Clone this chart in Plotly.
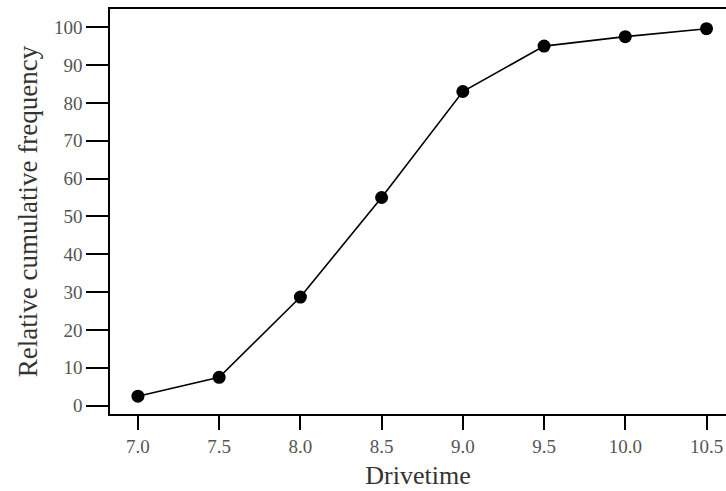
import plotly.graph_objects as go

drivetime = [7.0, 7.5, 8.0, 8.5, 9.0, 9.5, 10.0, 10.5]
rel_cum_freq = [2.5, 7.5, 28.7, 55.0, 83.0, 95.0, 97.5, 99.6]
x_ticks = [7.0, 7.5, 8.0, 8.5, 9.0, 9.5, 10.0, 10.5]
x_tick_text = ["7.0", "7.5", "8.0", "8.5", "9.0", "9.5", "10.0", "10.5"]
y_ticks = [0, 10, 20, 30, 40, 50, 60, 70, 80, 90, 100]

fig = go.Figure()
fig.add_trace(go.Scatter(
    x=drivetime, y=rel_cum_freq, mode="lines+markers",
    line=dict(color="black", width=1.6),
    marker=dict(color="black", size=13),
    cliponaxis=False, showlegend=False,
))

font = "Liberation Serif, DejaVu Serif, serif"
fig.update_layout(
    width=726, height=491,
    margin=dict(l=110, r=0, t=9, b=77),
    paper_bgcolor="white", plot_bgcolor="white",
    font=dict(family=font, color="#444"),
    xaxis=dict(
        range=[6.828, 10.62], tickvals=x_ticks, ticktext=x_tick_text,
        showgrid=False, zeroline=False, showline=True, linecolor="black",
        linewidth=1.5, mirror=True, ticks="outside", ticklen=14,
        tickwidth=1.5, tickcolor="black",
        tickfont=dict(size=19, color="#555", family=font),
        title=dict(text="Drivetime", font=dict(size=26, color="#333", family=font), standoff=10),
    ),
    yaxis=dict(
        range=[-2.2, 104.8], tickvals=y_ticks,
        showgrid=False, zeroline=False, showline=True, linecolor="black",
        linewidth=1.5, ticks="outside", ticklen=22, tickwidth=1.5, tickcolor="black",
        tickfont=dict(size=19, color="#555", family=font),
        title=dict(text="Relative cumulative frequency", font=dict(size=27, color="#333", family=font), standoff=9),
    ),
)
fig.write_html("out.html", config={"displayModeBar": False},
               post_script="document.body.style.margin='0';")
